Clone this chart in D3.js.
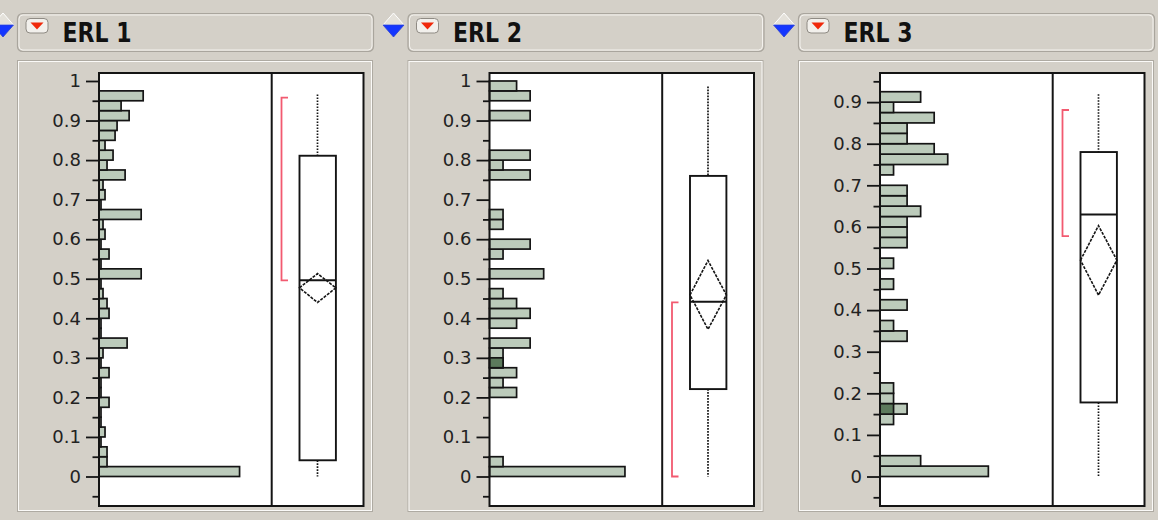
<!DOCTYPE html>
<html>
<head>
<meta charset="utf-8">
<script src="https://cdn.jsdelivr.net/npm/d3@7"></script>
<style>
    body { margin: 0; background: #d4d0c8; }
    svg { display: block; }
</style>
</head>
<body>
<div id="chart"></div>
<script>
// Distribution panels, one per ERL column: histogram (bins of 0.025) + outlier box plot
const panelNames = ["ERL 1", "ERL 2", "ERL 3"];
const binWidth = 0.025;

// counts per bin, starting at 0, 0.025, 0.05 ... 0.975
const erl1Counts = [70, 4, 4, 1, 3, 1, 1, 5, 1, 1, 5, 1, 2, 14, 1, 1, 5, 4, 2, 1,
    21, 1, 5, 1, 3, 2, 21, 1, 3, 2, 13, 4, 7, 3, 8, 9, 15, 11, 22, 0];
const erl2Counts = [10, 1, 0, 0, 0, 0, 0, 0, 2, 1, 2, 1, 1, 3, 0, 2, 3, 2, 1, 0,
    4, 0, 1, 3, 0, 1, 1, 0, 0, 0, 3, 1, 3, 0, 0, 0, 3, 0, 3, 2];
const erl3Counts = [8, 3, 0, 0, 0, 1, 2, 1, 1, 0, 0, 0, 0, 2, 1, 0, 2, 0, 1, 0,
    1, 0, 2, 2, 2, 3, 2, 2, 0, 1, 5, 4, 2, 2, 4, 1, 3, 0, 0, 0];

// highlighted (selected) rows: [bin index, count]
const erl1Selected = [];
const erl2Selected = [[11, 1]];
const erl3Selected = [[6, 1]];

// box plot: [min, q1, median, q3, max]
const erl1Quantiles = [0, 0.041, 0.496, 0.811, 0.966];
const erl2Quantiles = [0, 0.221, 0.442, 0.76, 0.986];
const erl3Quantiles = [0, 0.178, 0.63, 0.78, 0.919];

// means diamond: [lower 95%, mean, upper 95%]
const erl1Mean = [0.44, 0.477, 0.513];
const erl2Mean = [0.372, 0.459, 0.546];
const erl3Mean = [0.436, 0.52, 0.603];

// shortest half bracket
const erl1Shorth = [0.496, 0.958];
const erl2Shorth = [0, 0.44];
const erl3Shorth = [0.578, 0.881];

const ticksTo1 = [0, 0.1, 0.2, 0.3, 0.4, 0.5, 0.6, 0.7, 0.8, 0.9, 1];
const ticksTo09 = [0, 0.1, 0.2, 0.3, 0.4, 0.5, 0.6, 0.7, 0.8, 0.9];
const minorTicks = [-0.05, 0.05, 0.15, 0.25, 0.35, 0.45, 0.55, 0.65, 0.75, 0.85, 0.95];
const tickLabels = {0: "0", 0.1: "0.1", 0.2: "0.2", 0.3: "0.3", 0.4: "0.4", 0.5: "0.5",
    0.6: "0.6", 0.7: "0.7", 0.8: "0.8", 0.9: "0.9", 1: "1"};

const panels = [
    {name: panelNames[0], counts: erl1Counts, sel: erl1Selected, q: erl1Quantiles, mean: erl1Mean,
        shorth: erl1Shorth, ticks: ticksTo1, yDomain: [-0.0746, 1.0202], xMax: 86},
    {name: panelNames[1], counts: erl2Counts, sel: erl2Selected, q: erl2Quantiles, mean: erl2Mean,
        shorth: erl2Shorth, ticks: ticksTo1, yDomain: [-0.0746, 1.0202], xMax: 12.75},
    {name: panelNames[2], counts: erl3Counts, sel: erl3Selected, q: erl3Quantiles, mean: erl3Mean,
        shorth: erl3Shorth, ticks: ticksTo09, yDomain: [-0.0709, 0.970], xMax: 12.75}
];

const bg = "#d4d0c8";
const ink = "#141414";
const svg = d3.select("#chart").append("svg")
    .attr("width", 1158)
    .attr("height", 520);

svg.append("rect")
    .attr("width", 1158)
    .attr("height", 520)
    .attr("fill", bg);

//frame positions (relative to each panel)
const axisX = 99, sepX = 271.7, rightX = 363.5, topY = 73, bottomY = 506;

panels.forEach((p, i) => {
    const g = svg.append("g")
        .attr("transform", `translate(${i * 390.5}, 0)`);

    //blue disclosure diamond left of the header
    g.append("path")
        .attr("d", "M-7.5,25 L3,13 L13.5,25 Z")
        .attr("fill", "#e4e1da")
        .attr("stroke", "#ffffff")
        .attr("stroke-width", 1);
    g.append("path")
        .attr("d", "M-7.5,25 L13.5,25 L3,37 Z")
        .attr("fill", "#1436ff")
        .attr("stroke", "#2a3fd0")
        .attr("stroke-width", 0.8);

    //header box
    g.append("rect")
        .attr("x", 17.5).attr("y", 13.5)
        .attr("width", 356).attr("height", 38)
        .attr("rx", 5)
        .attr("fill", bg)
        .attr("stroke", "#a9a59d")
        .attr("stroke-width", 1.2);
    g.append("rect")
        .attr("x", 19).attr("y", 15)
        .attr("width", 353).attr("height", 35)
        .attr("rx", 4)
        .attr("fill", "none")
        .attr("stroke", "#f4f2ee")
        .attr("stroke-width", 1);

    //red popup icon
    g.append("rect")
        .attr("x", 26).attr("y", 18.5)
        .attr("width", 22).attr("height", 14.5)
        .attr("rx", 4)
        .attr("fill", "#f2f0ec")
        .attr("stroke", "#8f8b84")
        .attr("stroke-width", 1);
    g.append("path")
        .attr("d", "M30.5,22.5 L43.5,22.5 L37,29.5 Z")
        .attr("fill", "#f0280a");

    g.append("text")
        .attr("x", 62.5)
        .attr("y", 41.5)
        .attr("font-family", "DejaVu Sans")
        .attr("font-weight", "bold")
        .attr("font-size", 27)
        .attr("textLength", 69)
        .attr("lengthAdjust", "spacingAndGlyphs")
        .attr("fill", "#111")
        .text(p.name);

    //panel groove
    g.append("rect")
        .attr("x", 17.5).attr("y", 60.5)
        .attr("width", 355).attr("height", 451)
        .attr("fill", bg)
        .attr("stroke", "#aeaaa2")
        .attr("stroke-width", 1);
    g.append("rect")
        .attr("x", 18.5).attr("y", 61.5)
        .attr("width", 353).attr("height", 449)
        .attr("fill", "none")
        .attr("stroke", "#fbfaf8")
        .attr("stroke-width", 1);

    //plot area
    g.append("rect")
        .attr("x", axisX).attr("y", topY)
        .attr("width", rightX - axisX).attr("height", bottomY - topY)
        .attr("fill", "white");

    const yScale = d3.scaleLinear()
        .domain(p.yDomain)
        .range([bottomY, topY]);
    const xScale = d3.scaleLinear()
        .domain([0, p.xMax])
        .range([axisX, sepX]);

    //histogram bars
    const bins = p.counts.map((c, k) => ({lo: k * binWidth, count: c}))
        .filter(d => d.count > 0);
    g.append("g").selectAll("rect")
        .data(bins)
        .join("rect")
        .attr("x", axisX)
        .attr("y", d => yScale(d.lo + binWidth))
        .attr("width", d => xScale(d.count) - axisX)
        .attr("height", d => yScale(d.lo) - yScale(d.lo + binWidth))
        .attr("fill", "#bccbbb")
        .attr("stroke", ink)
        .attr("stroke-width", 1.7);

    g.append("g").selectAll("rect")
        .data(p.sel)
        .join("rect")
        .attr("x", axisX)
        .attr("y", d => yScale((d[0] + 1) * binWidth))
        .attr("width", d => xScale(d[1]) - axisX)
        .attr("height", d => yScale(d[0] * binWidth) - yScale((d[0] + 1) * binWidth))
        .attr("fill", "#5c7a5c")
        .attr("stroke", ink)
        .attr("stroke-width", 1.7);

    //axis ticks
    const majorAxis = g.append("g")
        .attr("transform", `translate(${axisX}, 0)`)
        .call(d3.axisLeft(yScale)
            .tickValues(p.ticks)
            .tickSize(13)
            .tickPadding(5)
            .tickFormat(d => tickLabels[d]));
    majorAxis.select(".domain").remove();
    majorAxis.selectAll("line").attr("stroke", ink).attr("stroke-width", 1.8);
    majorAxis.selectAll("text")
        .attr("font-family", "DejaVu Sans")
        .attr("font-size", 18)
        .attr("fill", "#222");

    const minorAxis = g.append("g")
        .attr("transform", `translate(${axisX}, 0)`)
        .call(d3.axisLeft(yScale)
            .tickValues(minorTicks)
            .tickSize(6.5)
            .tickFormat(""));
    minorAxis.select(".domain").remove();
    minorAxis.selectAll("line").attr("stroke", ink).attr("stroke-width", 1.8);

    //frame and separator
    g.append("rect")
        .attr("x", axisX).attr("y", topY)
        .attr("width", rightX - axisX).attr("height", bottomY - topY)
        .attr("fill", "none")
        .attr("stroke", ink)
        .attr("stroke-width", 2);
    g.append("line")
        .attr("x1", sepX).attr("x2", sepX)
        .attr("y1", topY).attr("y2", bottomY)
        .attr("stroke", ink)
        .attr("stroke-width", 2);

    //box plot
    const boxL = sepX + 27.8, boxR = sepX + 64.2, midX = sepX + 45.8;
    const brX = sepX + 9.8, brTip = 6.5;

    g.append("path")
        .attr("d", `M${brX + brTip},${yScale(p.shorth[1])} H${brX} V${yScale(p.shorth[0])} H${brX + brTip}`)
        .attr("fill", "none")
        .attr("stroke", "#f25a70")
        .attr("stroke-width", 1.8);

    g.append("line")
        .attr("x1", midX).attr("x2", midX)
        .attr("y1", yScale(p.q[4])).attr("y2", yScale(p.q[3]))
        .attr("stroke", ink)
        .attr("stroke-width", 1.7)
        .attr("stroke-dasharray", "1.6,1.4");
    g.append("line")
        .attr("x1", midX).attr("x2", midX)
        .attr("y1", yScale(p.q[1])).attr("y2", yScale(p.q[0]))
        .attr("stroke", ink)
        .attr("stroke-width", 1.7)
        .attr("stroke-dasharray", "1.6,1.4");

    g.append("rect")
        .attr("x", boxL).attr("y", yScale(p.q[3]))
        .attr("width", boxR - boxL)
        .attr("height", yScale(p.q[1]) - yScale(p.q[3]))
        .attr("fill", "none")
        .attr("stroke", ink)
        .attr("stroke-width", 1.9);
    g.append("line")
        .attr("x1", boxL).attr("x2", boxR)
        .attr("y1", yScale(p.q[2])).attr("y2", yScale(p.q[2]))
        .attr("stroke", ink)
        .attr("stroke-width", 1.9);

    //means diamond
    g.append("path")
        .attr("d", `M${boxL},${yScale(p.mean[1])} L${midX},${yScale(p.mean[2])} L${boxR},${yScale(p.mean[1])} L${midX},${yScale(p.mean[0])} Z`)
        .attr("fill", "none")
        .attr("stroke", ink)
        .attr("stroke-width", 1.6)
        .attr("stroke-dasharray", "3,1.2");
});
</script>
</body>
</html>
